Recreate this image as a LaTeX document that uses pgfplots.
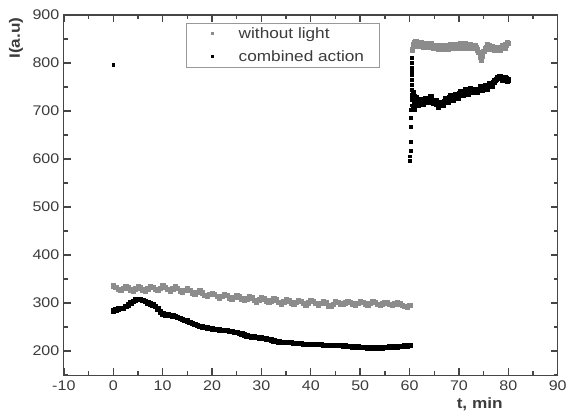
\documentclass[border=0pt]{standalone}
\usepackage{fontspec}
\setmainfont{Liberation Sans}[FakeStretch=1.15]
\usepackage{pgfplots}
\pgfplotsset{compat=1.18}
\definecolor{axgray}{RGB}{70,70,70}
\definecolor{sergray}{RGB}{140,140,140}
\definecolor{txt}{RGB}{60,60,60}
\begin{document}
\begin{tikzpicture}
\begin{axis}[name=ax, scale only axis, width=495pt, height=361pt,
 xmin=-10, xmax=90, ymin=150, ymax=900,
 xtick={-10,0,...,90}, ytick={200,300,...,900},
 minor xtick={-5,5,...,85}, minor ytick={150,250,...,850},
 tick align=inside, major tick length=7pt, minor tick length=4pt,
 axis line style={axgray, line width=1.2pt},
 major tick style={draw=axgray, line width=1.4pt},
 minor tick style={draw=axgray, line width=1.4pt},
 tick label style={font=\fontsize{14}{16}\selectfont, text=txt},
 /pgf/number format/assume math mode=true,
 /pgf/number format/1000 sep={},
 xticklabel style={yshift=-2pt},
 yticklabel style={xshift=-1pt},
 xlabel={\textbf{t, min}}, ylabel={\textbf{I(a.u)}},
 xlabel style={at={(rel axis cs:0.842,0)}, anchor=north, yshift=-19pt, font=\fontsize{15}{17}\selectfont, text=txt},
 ylabel style={at={(rel axis cs:0,0.936)}, anchor=center, yshift=48pt, font=\fontsize{15}{17}\selectfont, text=txt},
 legend style={at={(rel axis cs:0.248,0.978)}, anchor=north west, draw=gray!80, line width=0.6pt,
   font=\fontsize{15}{17}\selectfont, text=txt, row sep=7pt, column sep=23pt, inner xsep=25pt, inner ysep=2pt},
 legend cell align=left,
 legend image code/.code={\draw[#1, mark size=1.1pt] plot coordinates {(0pt,0pt)};},
]
\addplot[only marks, mark=square*, mark size=2.2pt, draw=sergray, fill=sergray] coordinates {
(0,336)(0.5,333)(1,329)(1.5,327)(2,331)(2.5,335)(3,332)(3.5,328)(4,326)(4.5,330)
(5,335)(5.5,332)(6,328)(6.5,326)(7,330)(7.5,335)(8,333)(8.5,329)(9,327)(9.5,331)
(10,336)(10.5,333)(11,329)(11.5,326)(12,330)(12.5,334)(13,331)(13.5,326)(14,323)(14.5,327)
(15,330)(15.5,327)(16,322)(16.5,319)(17,323)(17.5,326)(18,322)(18.5,317)(19,314)(19.5,318)
(20,321)(20.5,318)(21,314)(21.5,311)(22,315)(22.5,319)(23,316)(23.5,311)(24,308)(24.5,312)
(25,316)(25.5,313)(26,309)(26.5,306)(27,309)(27.5,313)(28,311)(28.5,306)(29,303)(29.5,307)
(30,311)(30.5,309)(31,305)(31.5,302)(32,305)(32.5,309)(33,307)(33.5,302)(34,299)(34.5,303)
(35,307)(35.5,305)(36,301)(36.5,298)(37,302)(37.5,306)(38,304)(38.5,300)(39,297)(39.5,301)
(40,305)(40.5,304)(41,300)(41.5,297)(42,300)(42.5,304)(43,301)(43.5,295)(44,293)(44.5,298)
(45,303)(45.5,302)(46,299)(46.5,298)(47,301)(47.5,303)(48,302)(48.5,299)(49,297)(49.5,300)
(50,303)(50.5,302)(51,299)(51.5,297)(52,300)(52.5,303)(53,302)(53.5,298)(54,296)(54.5,299)
(55,302)(55.5,301)(56,298)(56.5,296)(57,299)(57.5,301)(58,299)(58.5,296)(59,293)(59.5,292)(60,296)
(60.5,828)(60.7,838)(61,842)(61.5,840)(62,838)(62.5,841)(63,837)(63.5,836)(64,838)(64.5,835)
(65,834)(65.5,833)(66,832)(66.5,834)(67,831)(67.5,833)(68,834)(68.5,836)(69,833)(69.5,835)
(70,837)(70.5,834)(71,838)(71.5,835)(72,833)(72.5,836)(73,834)(73.5,832)(74,822)(74.5,806)
(75,825)(75.5,832)(76,836)(76.5,833)(77,831)(77.5,828)(78,830)(78.5,832)(79,834)(79.5,838)(80,841)
(60.9,836)(61.25,845)(61.75,836)(62.25,843)(62.75,834)(63.25,840)(63.75,833)(64.25,841)(64.75,831)
(65.25,837)(65.75,829)(66.25,836)(66.75,829)(67.25,836)(67.75,830)(68.25,838)(68.75,831)(69.25,838)
(69.75,831)(70.25,840)(70.75,831)(71.25,840)(71.75,832)(72.25,838)(72.75,831)(73.25,836)(73.75,828)
(74.25,812)(74.75,815)(75.25,830)(75.75,838)(76.25,830)(76.75,835)(77.25,827)(77.75,832)(78.25,827)
(78.75,836)(79.25,831)(79.75,843)
};
\addlegendentry{without light\kern-12pt}
\addplot[only marks, mark=square*, mark size=2.2pt, draw=black, fill=black] coordinates {
(0,284)(0.5,286)(1,288)(1.5,289)(2,290)(2.5,293)(3,297)(3.5,301)(4,304)(4.5,307)
(5,308)(5.5,308)(6,306)(6.5,304)(7,301)(7.5,299)(8,297)(8.5,293)(9,288)(9.5,282)
(10,278)(10.5,276)(11,276)(11.5,275)(12,274)(12.5,273)(13,271)(13.5,269)(14,267)(14.5,265)
(15,263)(15.5,260)(16,258)(16.5,256)(17,254)(17.5,252)(18,251)(18.5,250)(19,249)(19.5,248)
(20,247)(20.5,246)(21,246)(21.5,245)(22,244)(22.5,244)(23,243)(23.5,242)(24,241)(24.5,240)
(25,239)(25.5,237)(26,236)(26.5,234)(27,232)(27.5,231)(28,230)(28.5,230)(29,229)(29.5,228)
(30,228)(30.5,227)(31,226)(31.5,225)(32,224)(32.5,222)(33,221)(33.5,220)(34,219)(34.5,218)
(35,218)(35.5,218)(36,218)(36.5,217)(37,217)(37.5,216)(38,216)(38.5,215)(39,215)(39.5,215)
(40,215)(40.5,215)(41,215)(41.5,214)(42,214)(42.5,213)(43,213)(43.5,212)(44,212)(44.5,212)
(45,212)(45.5,212)(46,212)(46.5,211)(47,211)(47.5,210)(48,210)(48.5,209)(49,209)(49.5,209)
(50,208)(50.5,208)(51,208)(51.5,207)(52,207)(52.5,207)(53,207)(53.5,207)(54,207)(54.5,207)
(55,208)(55.5,208)(56,209)(56.5,209)(57,209)(57.5,209)(58,210)(58.5,210)(59,211)(59.5,211)(60,213)
(60.6,728)(60.8,705)(60.9,715)(60.7,738)(60.9,730)
(61,722)(61.5,716)(62,718)(62.5,722)(63,720)(63.5,725)(64,727)(64.5,722)(65,718)(65.5,714)
(66,713)(66.5,717)(67,720)(67.5,725)(68,728)(68.5,726)(69,730)(69.5,733)(70,736)(70.5,738)
(71,741)(71.5,740)(72,742)(72.5,744)(73,741)(73.5,744)(74,746)(74.5,748)(75,747)(75.5,750)
(76,753)(76.5,756)(77,760)(77.5,766)(78,769)(78.5,768)(79,767)(79.5,767)(80,765)
(61.25,728)(61.75,712)(62.25,724)(62.75,714)(63.25,727)(63.75,718)(64.25,730)(64.75,716)(65.25,722)
(65.75,709)(66.25,719)(66.75,712)(67.25,726)(67.75,719)(68.25,732)(68.75,722)(69.25,735)(69.75,728)
(70.25,741)(70.75,733)(71.25,745)(71.75,736)(72.25,747)(72.75,739)(73.25,746)(73.75,740)(74.25,751)
(74.75,743)(75.25,753)(75.75,746)(76.25,758)(76.75,752)(77.25,764)(77.75,770)(78.25,773)(78.75,764)
(79.25,771)(79.75,762)
};
\addlegendentry{combined action\kern-12pt}
\addplot[forget plot, only marks, mark=square*, mark size=1.4pt, draw=black, fill=black] coordinates {
(0,797)
(60.1,596)(60.1,606)(60.2,618)(60.2,636)(60.3,667)(60.3,686)(60.3,703)(60.4,712)(60.4,723)
(60.4,734)(60.4,745)(60.5,755)(60.5,765)(60.5,775)(60.5,782)(60.5,790)(60.5,800)(60.5,811)
};
\end{axis}
\path (ax.south west) ++(-64pt,-40pt) rectangle ++(570pt,416pt);
\end{tikzpicture}
\end{document}
